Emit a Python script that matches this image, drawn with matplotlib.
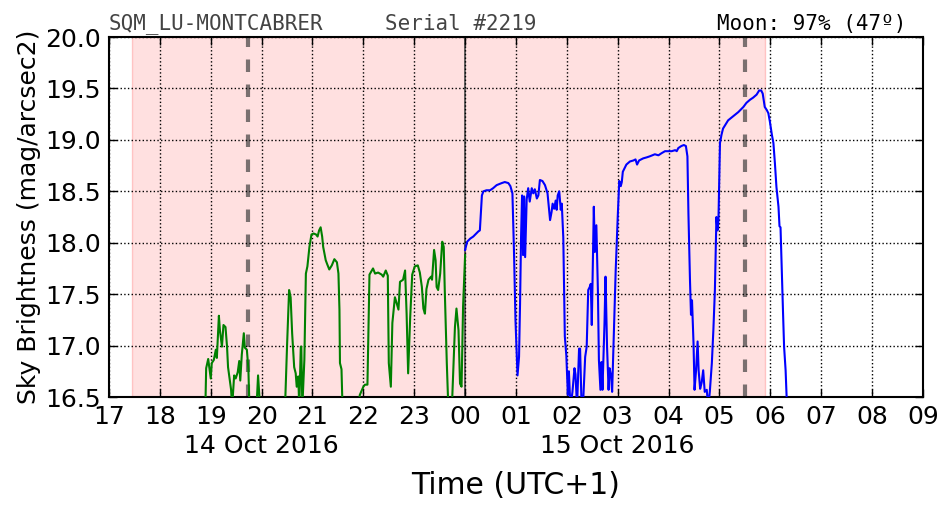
import matplotlib
matplotlib.use("Agg")
import matplotlib.pyplot as plt
import matplotlib.transforms as mtransforms

# ── data (hours since 00:00 of 14 Oct 2016, UTC+1) ─────────────────────────
green_t = [18.89, 18.91, 18.95, 19.00, 19.02, 19.06, 19.10, 19.12, 19.16, 19.18,
           19.22, 19.25, 19.29, 19.32, 19.34, 19.40, 19.42, 19.46, 19.49, 19.53,
           19.56, 19.58, 19.61, 19.65, 19.67, 19.71, 19.74, 19.76, 19.90, 19.93,
           19.97, 20.46, 20.50, 20.54, 20.57, 20.60, 20.64, 20.67, 20.69, 20.72,
           20.74, 20.77, 20.78, 20.80, 20.84, 20.87, 20.90, 20.94, 20.98, 21.02,
           21.07, 21.10, 21.13, 21.16, 21.19, 21.21, 21.26, 21.29, 21.33, 21.38,
           21.43, 21.48, 21.51, 21.53, 21.54, 21.57, 21.59, 21.90, 21.93, 22.00,
           22.03, 22.08, 22.12, 22.19, 22.23, 22.29, 22.36, 22.39, 22.44, 22.48,
           22.50, 22.54, 22.57, 22.62, 22.65, 22.69, 22.72, 22.78, 22.82, 22.85,
           22.88, 22.92, 22.96, 23.01, 23.07, 23.11, 23.15, 23.18, 23.21, 23.24,
           23.28, 23.33, 23.35, 23.39, 23.42, 23.44, 23.47, 23.51, 23.55, 23.58,
           23.60, 23.64, 23.67, 23.74, 23.80, 23.83, 23.87, 23.90, 23.93, 23.96,
           24.00]
green_v = [16.30, 16.78, 16.87, 16.68, 16.83, 16.86, 16.96, 16.88, 17.29, 17.15,
           16.99, 17.20, 17.18, 16.99, 16.79, 16.57, 16.40, 16.71, 16.68, 16.74,
           16.85, 16.66, 16.91, 17.12, 16.98, 16.96, 16.77, 16.40, 16.40, 16.71,
           16.40, 16.40, 17.00, 17.54, 17.47, 17.12, 16.79, 16.73, 16.60, 16.70,
           16.40, 16.99, 16.99, 16.40, 16.86, 17.70, 17.77, 17.96, 18.08, 18.09,
           18.08, 18.06, 18.12, 18.15, 18.06, 17.96, 17.83, 17.79, 17.74, 17.78,
           17.84, 17.81, 17.70, 17.35, 16.83, 16.77, 16.40, 16.40, 16.52, 16.60,
           16.62, 16.62, 17.69, 17.75, 17.70, 17.71, 17.69, 17.67, 17.73, 17.68,
           16.83, 16.60, 17.22, 17.47, 17.42, 17.35, 17.62, 17.64, 17.73, 17.31,
           16.73, 17.27, 17.69, 17.77, 17.78, 17.71, 17.57, 17.36, 17.31, 17.55,
           17.64, 17.67, 17.64, 17.93, 17.83, 17.57, 17.54, 17.70, 18.01, 17.96,
           17.54, 16.83, 16.40, 16.40, 17.18, 17.36, 17.15, 16.63, 16.60, 17.38,
           17.88]

blue_t = [24.00, 24.04, 24.10, 24.16, 24.26, 24.29, 24.33, 24.36, 24.42, 24.49,
          24.55, 24.62, 24.72, 24.78, 24.85, 24.89, 24.93, 24.96, 24.99, 25.03,
          25.06, 25.08, 25.10, 25.12, 25.14, 25.16, 25.18, 25.21, 25.24, 25.27,
          25.31, 25.34, 25.37, 25.41, 25.44, 25.47, 25.52, 25.57, 25.62, 25.67,
          25.70, 25.72, 25.75, 25.78, 25.80, 25.82, 25.85, 25.88, 25.90, 25.93,
          25.96, 25.99, 26.02, 26.04, 26.07, 26.11, 26.15, 26.17, 26.20, 26.24,
          26.26, 26.29, 26.32, 26.36, 26.39, 26.42, 26.45, 26.47, 26.49, 26.53,
          26.55, 26.58, 26.61, 26.63, 26.66, 26.68, 26.70, 26.74, 26.76, 26.79,
          26.82, 26.84, 26.87, 26.89, 26.93, 26.96, 27.00, 27.03, 27.06, 27.08,
          27.10, 27.17, 27.24, 27.31, 27.35, 27.38, 27.42, 27.50, 27.57, 27.63,
          27.73, 27.80, 27.86, 27.93, 27.99, 28.06, 28.13, 28.16, 28.19, 28.25,
          28.30, 28.34, 28.37, 28.39, 28.42, 28.44, 28.46, 28.49, 28.51, 28.54,
          28.57, 28.59, 28.62, 28.65, 28.68, 28.71, 28.75, 28.78, 28.81, 28.85,
          28.88, 28.91, 28.94, 28.96, 28.98, 29.01, 29.04, 29.07, 29.17, 29.27,
          29.37, 29.47, 29.53, 29.60, 29.66, 29.73, 29.78, 29.82, 29.85, 29.89,
          29.93, 29.96, 29.99, 30.03, 30.06, 30.09, 30.12, 30.16, 30.18, 30.20,
          30.22, 30.25, 30.27, 30.30, 30.32, 30.34]
blue_v = [17.93, 18.01, 18.04, 18.06, 18.11, 18.12, 18.46, 18.50, 18.51, 18.51,
          18.53, 18.56, 18.58, 18.59, 18.58, 18.55, 18.48, 17.93, 17.25, 16.71,
          16.89, 17.41, 18.06, 18.46, 17.88, 18.45, 17.86, 18.42, 18.53, 18.40,
          18.53, 18.48, 18.52, 18.43, 18.46, 18.61, 18.60, 18.56, 18.48, 18.22,
          18.30, 18.38, 18.33, 18.41, 18.32, 18.46, 18.50, 18.32, 18.38, 18.05,
          17.09, 16.90, 16.52, 16.75, 16.40, 16.55, 16.78, 16.72, 16.40, 16.97,
          16.97, 16.40, 16.45, 16.89, 16.99, 17.54, 17.57, 17.60, 17.20, 18.35,
          17.91, 18.17, 17.54, 16.86, 16.57, 16.84, 16.57, 17.22, 17.67, 16.99,
          16.57, 16.78, 16.70, 16.55, 17.22, 17.73, 18.25, 18.60, 18.55, 18.59,
          18.69, 18.76, 18.79, 18.80, 18.81, 18.76, 18.80, 18.82, 18.83, 18.84,
          18.86, 18.85, 18.87, 18.89, 18.89, 18.89, 18.90, 18.89, 18.92, 18.94,
          18.95, 18.94, 18.84, 18.28, 17.64, 17.30, 17.44, 17.02, 16.57, 16.76,
          17.04, 16.76, 16.58, 16.64, 16.76, 16.55, 16.57, 16.40, 16.55, 16.83,
          17.15, 17.54, 18.25, 18.12, 18.22, 18.97, 19.05, 19.11, 19.19, 19.23,
          19.27, 19.32, 19.36, 19.39, 19.41, 19.44, 19.48, 19.48, 19.45, 19.32,
          19.29, 19.26, 19.18, 19.05, 18.97, 18.77, 18.54, 18.35, 18.16, 18.15,
          17.80, 17.31, 16.99, 16.76, 16.50, 16.30]

night_start, night_end = 17.45, 29.89      # shaded (astronomical night)
moon_marks = [19.73, 29.50]                # dashed grey lines
midnight = 24.0
hour_ticks = list(range(17, 34))
hour_labels = ["%02d" % (h % 24) for h in hour_ticks]
date_pos = [20, 27]
date_labels = ["14 Oct 2016", "15 Oct 2016"]
y_ticks = [16.5, 17.0, 17.5, 18.0, 18.5, 19.0, 19.5, 20.0]

# ── figure ─────────────────────────────────────────────────────────────────
plt.rcParams["font.family"] = ["DejaVu Sans"]
fig = plt.figure(figsize=(9.52, 5.12), dpi=100)
ax = fig.add_axes([0.1145, 0.2246, 0.855, 0.7031])

ax.axvspan(night_start, night_end, facecolor=(1, 0, 0, 0.12),
           edgecolor=(1, 0, 0, 0.18), lw=1, zorder=0)
for m in moon_marks:
    ax.axvline(m, color="#7a7070", lw=3, dashes=(3, 3), zorder=1)
ax.axvline(midnight, color="#555555", lw=1.3, zorder=1)

ax.plot(green_t, green_v, color="green", lw=1.5, zorder=3)
ax.plot(blue_t, blue_v, color="blue", lw=1.5, zorder=3)

ax.set_xlim(17, 33)
ax.set_ylim(16.5, 20.0)
ax.set_xticks(hour_ticks)
ax.set_xticklabels(hour_labels)
ax.set_yticks(y_ticks)
ax.set_yticklabels(["%.1f" % v for v in y_ticks])
ax.tick_params(direction="in", top=True, right=True, length=6, width=1,
               labelsize=18)
ax.tick_params(axis="x", pad=6)
ax.tick_params(axis="y", pad=6)
ax.grid(True, color="black", ls=":", lw=1)
for sp in ax.spines.values():
    sp.set_linewidth(1.5)

trans = mtransforms.blended_transform_factory(ax.transData, ax.transAxes)
for p, lab in zip(date_pos, date_labels):
    ax.text(p, -0.135, lab, transform=trans, ha="center", va="center", fontsize=18)

ax.set_xlabel("Time (UTC+1)", fontsize=21.5, labelpad=30)
ax.set_ylabel("Sky Brightness (mag/arcsec2)", fontsize=18, labelpad=3)

mono = dict(family="DejaVu Sans Mono", fontsize=15)
ax.text(0.0, 1.008, "SQM_LU-MONTCABRER", transform=ax.transAxes,
        ha="left", va="bottom", color="#444444", **mono)
ax.text(0.339, 1.008, "Serial #2219", transform=ax.transAxes,
        ha="left", va="bottom", color="#444444", **mono)
ax.text(0.98, 1.008, "Moon: 97% (47º)", transform=ax.transAxes,
        ha="right", va="bottom", color="black", **mono)

fig.savefig("out.png", dpi=100)
